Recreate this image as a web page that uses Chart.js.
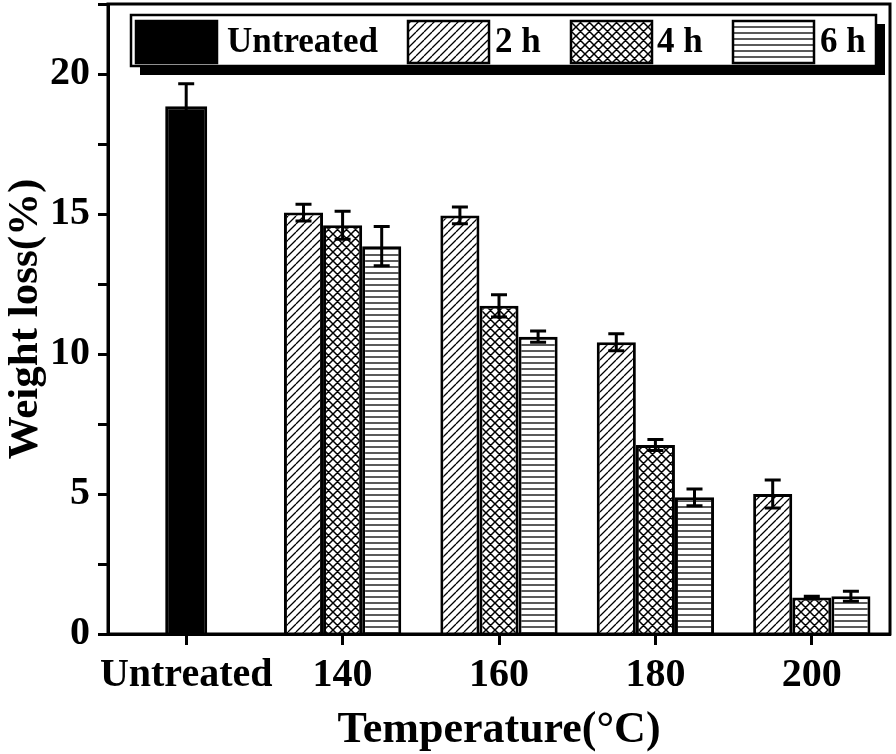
<!DOCTYPE html>
<html>
<head>
<meta charset="utf-8">
<script src="https://cdn.jsdelivr.net/npm/chart.js@4.4.1/dist/chart.umd.min.js"></script>
<style>
  html, body { margin: 0; padding: 0; background: #fff; }
  #wrap { width: 896px; height: 754px; }
</style>
</head>
<body>
<div id="wrap"><canvas id="chartJsCanvas" width="896" height="754"></canvas></div>
<script>
const categories = ["Untreated", "140", "160", "180", "200"];

const untreated    = [18.85, null, null, null, null];
const untreatedErr = [0.8, null, null, null, null];
const h2    = [null, 15.05, 14.95, 10.42, 5.0];
const h2Err = [null, 0.3, 0.3, 0.3, 0.5];
const h4    = [null, 14.6, 11.72, 6.75, 1.3];
const h4Err = [null, 0.5, 0.4, 0.2, 0.05];
const h6    = [null, 13.85, 10.62, 4.88, 1.35];
const h6Err = [null, 0.7, 0.2, 0.3, 0.18];

const FONT = "'Liberation Serif', 'Times New Roman', serif";

// hatch fills: 'd' = ////, 'x' = cross, 'h' = horizontal
function hatch(type) {
  const s = type === 'd' ? 8 : (type === 'x' ? 9 : 6);
  const c = document.createElement('canvas');
  c.width = s; c.height = s;
  const g = c.getContext('2d');
  g.fillStyle = '#fff';
  g.fillRect(0, 0, s, s);
  g.strokeStyle = '#000';
  g.lineWidth = type === 'x' ? 1.5 : 1.3;
  g.beginPath();
  if (type === 'h') {
    g.moveTo(0, s / 2); g.lineTo(s, s / 2);
  } else {
    for (let k = -1; k <= 1; k++) {
      g.moveTo(k * s, s); g.lineTo(k * s + s, 0);
      if (type === 'x') { g.moveTo(k * s, 0); g.lineTo(k * s + s, s); }
    }
  }
  g.stroke();
  return document.getElementById('chartJsCanvas').getContext('2d').createPattern(c, 'repeat');
}

const fills = { u: '#000', d: hatch('d'), x: hatch('x'), h: hatch('h') };

const errorBars = {
  id: 'errorBars',
  afterDatasetsDraw(chart) {
    const ctx = chart.ctx, y = chart.scales.y;
    ctx.save();
    ctx.strokeStyle = '#000';
    ctx.lineWidth = 3;
    chart.data.datasets.forEach((ds, i) => {
      const meta = chart.getDatasetMeta(i);
      meta.data.forEach((bar, j) => {
        const v = ds.data[j], e = ds.errors[j];
        if (v == null || e == null) return;
        const top = y.getPixelForValue(v + e), bot = y.getPixelForValue(v - e);
        ctx.beginPath();
        ctx.moveTo(bar.x, top); ctx.lineTo(bar.x, bot);
        ctx.moveTo(bar.x - 8, top); ctx.lineTo(bar.x + 8, top);
        ctx.moveTo(bar.x - 8, bot); ctx.lineTo(bar.x + 8, bot);
        ctx.stroke();
      });
    });
    ctx.restore();
  }
};

const frameAndLegend = {
  id: 'frameAndLegend',
  afterDraw(chart) {
    const ctx = chart.ctx, a = chart.chartArea;
    ctx.save();
    ctx.strokeStyle = '#000';
    ctx.lineWidth = 3;
    ctx.strokeRect(a.left, a.top, a.right - a.left, a.bottom - a.top);

    // legend box with drop shadow
    const bx = 131, by = 15, bw = 745, bh = 51;
    ctx.fillStyle = '#000';
    ctx.fillRect(bx + 9, by + 9, bw, bh);
    ctx.fillStyle = '#fff';
    ctx.fillRect(bx, by, bw, bh);
    ctx.lineWidth = 2.5;
    ctx.strokeRect(bx, by, bw, bh);

    const items = [
      { fill: fills.u, x: 136, tx: 227, label: chart.data.datasets[0].label },
      { fill: fills.d, x: 408, tx: 495, label: chart.data.datasets[1].label },
      { fill: fills.x, x: 571, tx: 657, label: chart.data.datasets[2].label },
      { fill: fills.h, x: 733, tx: 820, label: chart.data.datasets[3].label }
    ];
    ctx.font = "bold 35px " + FONT;
    ctx.textBaseline = 'middle';
    items.forEach(it => {
      ctx.fillStyle = it.fill;
      ctx.fillRect(it.x, 21, 81, 42);
      ctx.strokeRect(it.x, 21, 81, 42);
      ctx.fillStyle = '#000';
      ctx.fillText(it.label, it.tx, 43);
    });
    ctx.restore();
  }
};

const barOpts = { borderColor: '#000', borderWidth: 3, skipNull: true, maxBarThickness: 42 };

new Chart(document.getElementById("chartJsCanvas"), {
  type: 'bar',
  data: {
    labels: categories,
    datasets: [
      { label: "Untreated", data: untreated, errors: untreatedErr, backgroundColor: fills.u, ...barOpts },
      { label: "2 h", data: h2, errors: h2Err, backgroundColor: fills.d, ...barOpts },
      { label: "4 h", data: h4, errors: h4Err, backgroundColor: fills.x, ...barOpts },
      { label: "6 h", data: h6, errors: h6Err, backgroundColor: fills.h, ...barOpts }
    ]
  },
  options: {
    responsive: false,
    animation: false,
    layout: { padding: { top: 4, right: 6, left: 0, bottom: 0 } },
    datasets: { bar: { categoryPercentage: 0.75, barPercentage: 1.0 } },
    plugins: {
      legend: { display: false },
      tooltip: { enabled: false }
    },
    scales: {
      x: {
        offset: true,
        afterFit: s => { s.height = 120; s.paddingLeft = 0; s.paddingRight = 0; },
        grid: { display: true, drawOnChartArea: false, offset: false, tickLength: 11, tickColor: '#000', tickWidth: 3 },
        border: { display: true, color: '#000', width: 3 },
        ticks: { color: '#000', padding: 7, maxRotation: 0, minRotation: 0, autoSkip: false, font: { family: FONT, size: 40, weight: 'bold' } },
        title: { display: true, text: 'Temperature(°C)', color: '#000', padding: { top: 0, bottom: -3 }, font: { family: FONT, size: 44, weight: 'bold' } }
      },
      y: {
        min: 0,
        max: 22.5,
        afterFit: s => { s.width = 108; s.paddingTop = 0; s.paddingBottom = 0; },
        grid: { display: true, drawOnChartArea: false, tickLength: 10, tickColor: '#000', tickWidth: 3 },
        border: { display: true, color: '#000', width: 3 },
        ticks: {
          stepSize: 2.5,
          autoSkip: false,
          color: '#000',
          padding: 8,
          font: { family: FONT, size: 40, weight: 'bold' },
          callback: v => (v % 5 === 0 ? v : '')
        },
        title: { display: true, text: 'Weight loss(%)', color: '#000', padding: { top: 0, bottom: 0 }, font: { family: FONT, size: 43, weight: 'bold' } }
      }
    }
  },
  plugins: [errorBars, frameAndLegend]
});
</script>
</body>
</html>
